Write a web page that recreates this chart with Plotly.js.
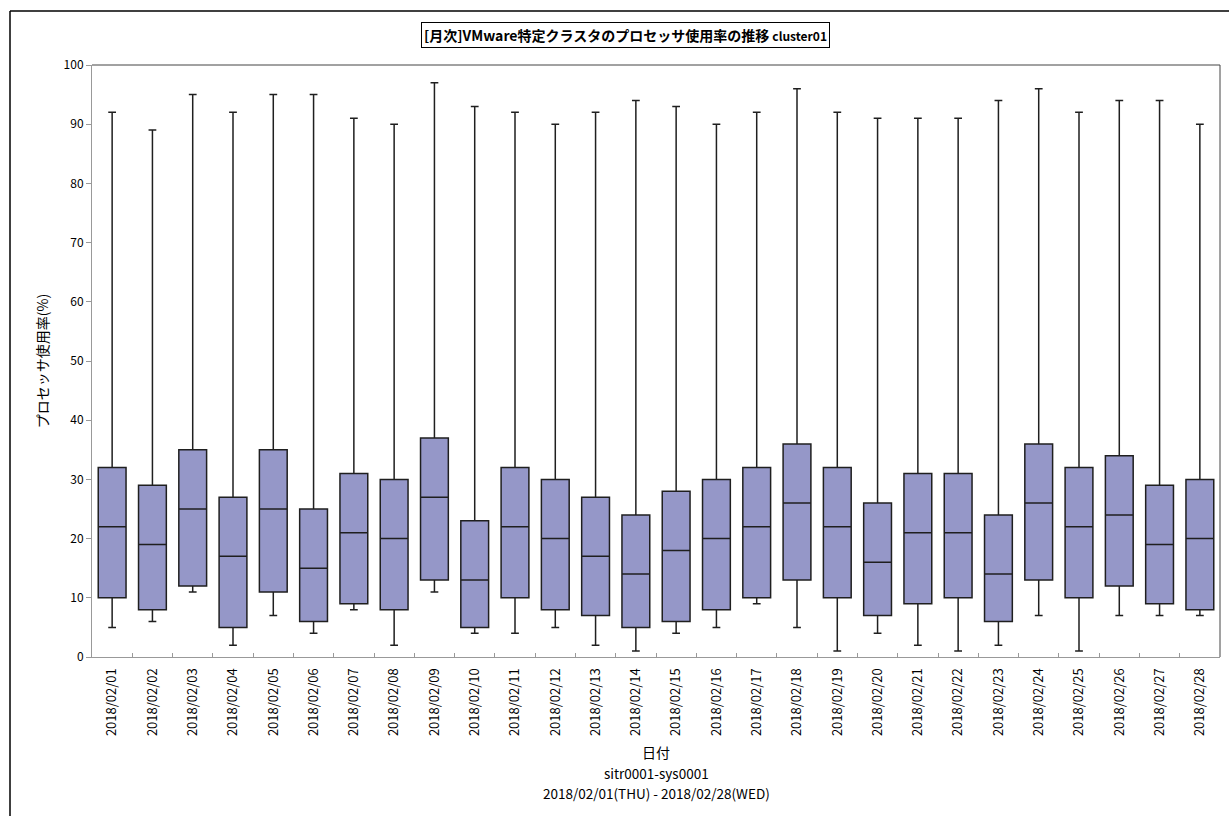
<!DOCTYPE html>
<html>
<head>
<meta charset="utf-8">
<script src="https://cdn.plot.ly/plotly-3.0.1.min.js"></script>
<style>
html,body{margin:0;padding:0;background:#fff;}
#chart{width:1229px;height:816px;}
</style>
</head>
<body>
<div id="chart"></div>
<script>
const categories = ["2018/02/01","2018/02/02","2018/02/03","2018/02/04","2018/02/05","2018/02/06","2018/02/07",
  "2018/02/08","2018/02/09","2018/02/10","2018/02/11","2018/02/12","2018/02/13","2018/02/14",
  "2018/02/15","2018/02/16","2018/02/17","2018/02/18","2018/02/19","2018/02/20","2018/02/21",
  "2018/02/22","2018/02/23","2018/02/24","2018/02/25","2018/02/26","2018/02/27","2018/02/28"];
const maxValues    = [92,89,95,92,95,95,91,90,97,93,92,90,92,94,93,90,92,96,92,91,91,91,94,96,92,94,94,90];
const q3Values     = [32,29,35,27,35,25,31,30,37,23,32,30,27,24,28,30,32,36,32,26,31,31,24,36,32,34,29,30];
const medianValues = [22,19,25,17,25,15,21,20,27,13,22,20,17,14,18,20,22,26,22,16,21,21,14,26,22,24,19,20];
const q1Values     = [10, 8,12, 5,11, 6, 9, 8,13, 5,10, 8, 7, 5, 6, 8,10,13,10, 7, 9,10, 6,13,10,12, 9, 8];
const minValues    = [ 5, 6,11, 2, 7, 4, 8, 2,11, 4, 4, 5, 2, 1, 4, 5, 9, 5, 1, 4, 2, 1, 2, 7, 1, 7, 7, 7];

const chartTitle = "[月次]VMware特定クラスタのプロセッサ使用率の推移 <span style='font-size:12px'>cluster01</span>";
const yTitle = "プロセッサ使用率(%)";
const xTitle = "日付";
const subLine1 = "sitr0001-sys0001";
const subLine2 = "2018/02/01(THU) - 2018/02/28(WED)";

const FONT = "'Noto Sans CJK JP', 'Noto Sans', sans-serif";

const trace = {
  type: "box",
  x: categories,
  q1: q1Values,
  median: medianValues,
  q3: q3Values,
  lowerfence: minValues,
  upperfence: maxValues,
  boxpoints: false,
  fillcolor: "#9597C8",
  line: {color: "#1f1f1f", width: 1.5},
  whiskerwidth: 0.28,
  hoverinfo: "y",
  showlegend: false
};

const L = 92, R = 9, T = 65, B = 159;
const W = 1229, H = 816;
const pw = W - L - R, ph = H - T - B;
const px = v => (v - L) / pw;
const py = v => (H - B - v) / ph;

const layout = {
  width: W, height: H,
  margin: {l: L, r: R, t: T, b: B},
  paper_bgcolor: "#fff",
  plot_bgcolor: "#fff",
  font: {family: FONT, color: "#000", size: 12},
  boxgap: 0.31,
  boxgroupgap: 0,
  showlegend: false,
  xaxis: {
    type: "category",
    tickangle: -90,
    ticks: "inside",
    tickson: "boundaries",
    ticklen: 4,
    tickcolor: "#999",
    ticklabelstandoff: 5,
    showline: true,
    linecolor: "#999",
    linewidth: 1,
    showgrid: false,
    zeroline: false,
    tickfont: {family: FONT, size: 13, color: "#000"},
    title: {text: xTitle, font: {family: FONT, size: 14, color: "#000"}, standoff: 13}
  },
  yaxis: {
    range: [0, 100],
    dtick: 10,
    ticks: "outside",
    ticklen: 5,
    tickcolor: "#999",
    showline: true,
    linecolor: "#999",
    linewidth: 1,
    showgrid: false,
    zeroline: false,
    tickfont: {family: FONT, size: 12, color: "#000"},
    title: {text: yTitle, font: {family: FONT, size: 14, color: "#000"}, standoff: 11}
  },
  shapes: [
    {type: "line", xref: "paper", yref: "paper", x0: 0, x1: 1, y0: 1, y1: 1, line: {color: "#444", width: 1}},
    {type: "line", xref: "paper", yref: "paper", x0: 1, x1: 1, y0: 0, y1: 1, line: {color: "#444", width: 1}},
    {type: "line", xref: "paper", yref: "paper", x0: px(10), x1: px(10), y0: py(11), y1: py(830), line: {color: "#000", width: 1.5}},
    {type: "line", xref: "paper", yref: "paper", x0: px(10), x1: px(1240), y0: py(11), y1: py(11), line: {color: "#000", width: 1.5}}
  ],
  annotations: [
    {text: chartTitle, xref: "paper", yref: "paper", x: px(625), y: py(35), xanchor: "center", yanchor: "middle",
     showarrow: false, font: {family: FONT, size: 14, color: "#000", weight: "bold"},
     bordercolor: "#000", borderwidth: 1, borderpad: 2, bgcolor: "#fff"},
    {text: subLine1, xref: "paper", yref: "paper", x: 0.5, y: py(773), xanchor: "center", yanchor: "middle",
     showarrow: false, font: {family: FONT, size: 13.5, color: "#000"}},
    {text: subLine2, xref: "paper", yref: "paper", x: 0.5, y: py(793), xanchor: "center", yanchor: "middle",
     showarrow: false, font: {family: FONT, size: 13.5, color: "#000"}}
  ]
};

Plotly.newPlot("chart", [trace], layout, {displayModeBar: false, responsive: false});
</script>
</body>
</html>
